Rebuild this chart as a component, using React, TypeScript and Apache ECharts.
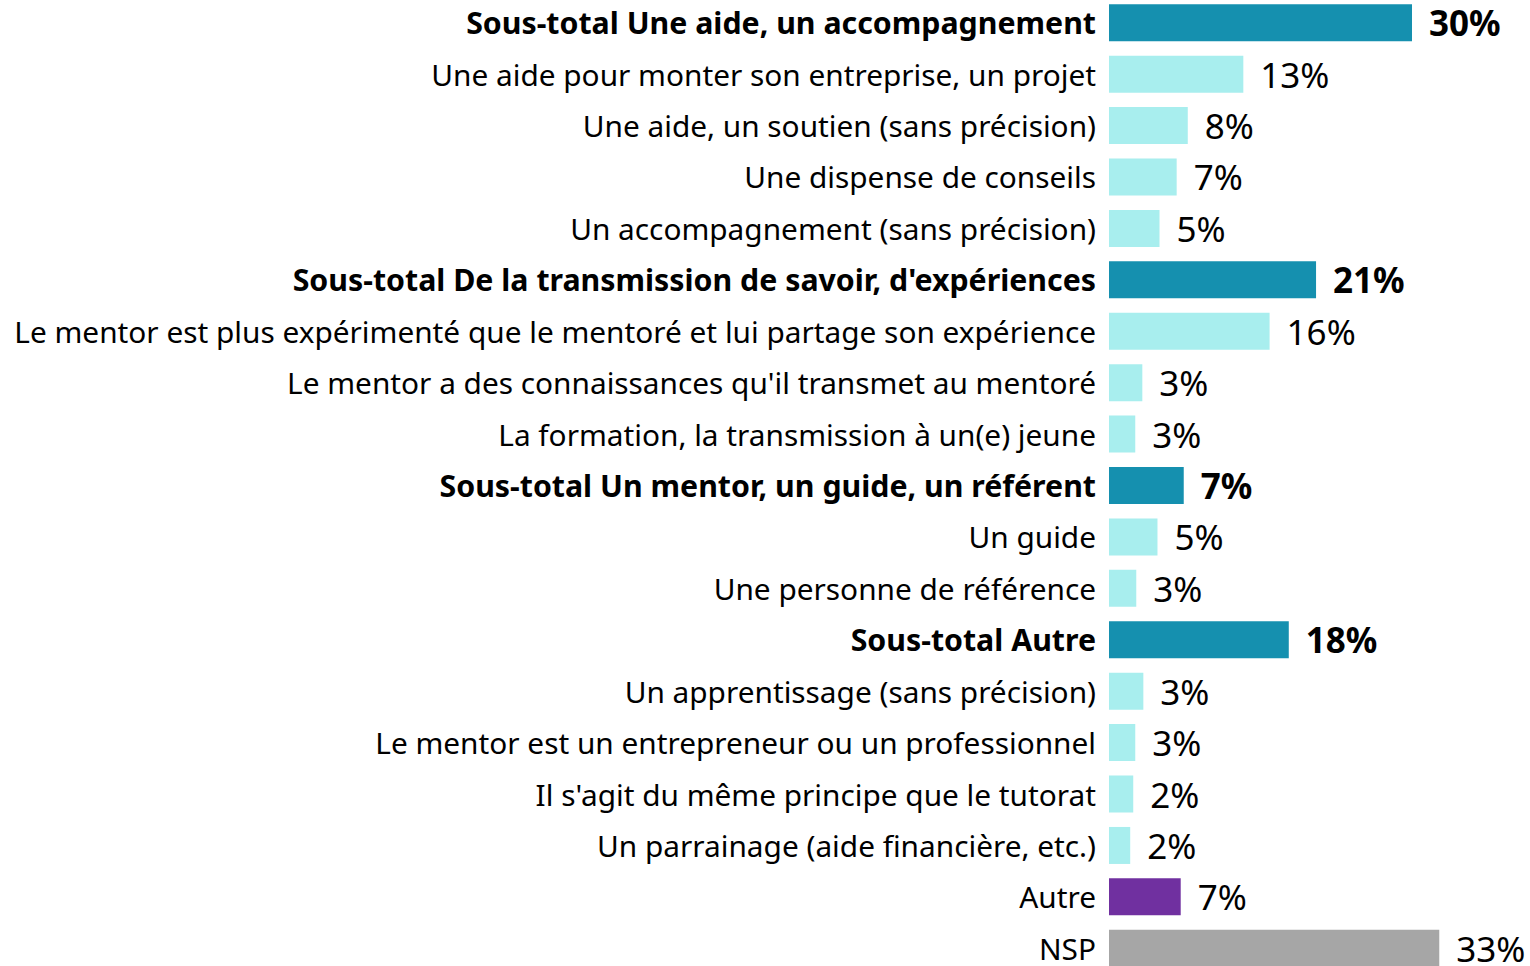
import React, { useEffect, useRef } from "react";
import * as echarts from "echarts";

const categories = [
  "Sous-total Une aide, un accompagnement",
  "Une aide pour monter son entreprise, un projet",
  "Une aide, un soutien (sans précision)",
  "Une dispense de conseils",
  "Un accompagnement (sans précision)",
  "Sous-total De la transmission de savoir, d'expériences",
  "Le mentor est plus expérimenté que le mentoré et lui partage son expérience",
  "Le mentor a des connaissances qu'il transmet au mentoré",
  "La formation, la transmission à un(e) jeune",
  "Sous-total Un mentor, un guide, un référent",
  "Un guide",
  "Une personne de référence",
  "Sous-total Autre",
  "Un apprentissage (sans précision)",
  "Le mentor est un entrepreneur ou un professionnel",
  "Il s'agit du même principe que le tutorat",
  "Un parrainage (aide financière, etc.)",
  "Autre",
  "NSP",
];

const values = [30.0, 13.3, 7.8, 6.7, 5.0, 20.5, 15.9, 3.3, 2.6, 7.4, 4.8, 2.7, 17.8, 3.4, 2.6, 2.4, 2.1, 7.1, 32.7];

// row kind: "sub" = sous-total, "item" = detail, "autre", "nsp"
const kinds = ["sub", "item", "item", "item", "item", "sub", "item", "item", "item", "sub", "item", "item", "sub", "item", "item", "item", "item", "autre", "nsp"];

const colors: Record<string, string> = {
  sub: "#1590AF",
  item: "#A8EEEE",
  autre: "#7030A0",
  nsp: "#A6A6A6",
};

const FONT = "'Noto Sans', sans-serif";

export default function App() {
  const ref = useRef<HTMLDivElement>(null);
  useEffect(() => {
    if (!ref.current) return;
    const chart = echarts.init(ref.current, null, { renderer: "svg" });
    const data = values.map((v, i) => {
      const bold = kinds[i] === "sub";
      return {
        value: v,
        itemStyle: { color: colors[kinds[i]] },
        label: {
          show: true,
          position: "right",
          distance: 17,
          formatter: Math.round(v) + "%",
          fontFamily: FONT,
          fontSize: 35,
          fontWeight: bold ? "bold" : "normal",
          color: "#000",
        },
      };
    });
    chart.setOption({
      animation: false,
      grid: { left: 1109, right: 17, top: 0, bottom: 3, containLabel: false },
      xAxis: { type: "value", min: 0, max: 40, show: false },
      yAxis: {
        type: "category",
        data: categories,
        inverse: true,
        axisLine: { show: false },
        axisTick: { show: false },
        axisLabel: {
          margin: 13,
          fontFamily: FONT,
          fontSize: 29.8,
          color: "#000",
          formatter: (val: string) => {
            const i = categories.indexOf(val);
            return kinds[i] === "sub" ? "{b|" + val + "}" : "{n|" + val + "}";
          },
          rich: {
            b: { fontFamily: FONT, fontSize: 30.3, fontWeight: "bold", color: "#000" },
            n: { fontFamily: FONT, fontSize: 29.8, color: "#000" },
          },
        },
      },
      series: [
        {
          type: "bar",
          data,
          barWidth: 37,
        },
      ],
    });
    return () => chart.dispose();
  }, []);
  return (
    <div
      ref={ref}
      style={{ position: "fixed", left: 0, top: -3, width: 1530, height: 980, background: "#fff" }}
    />
  );
}
